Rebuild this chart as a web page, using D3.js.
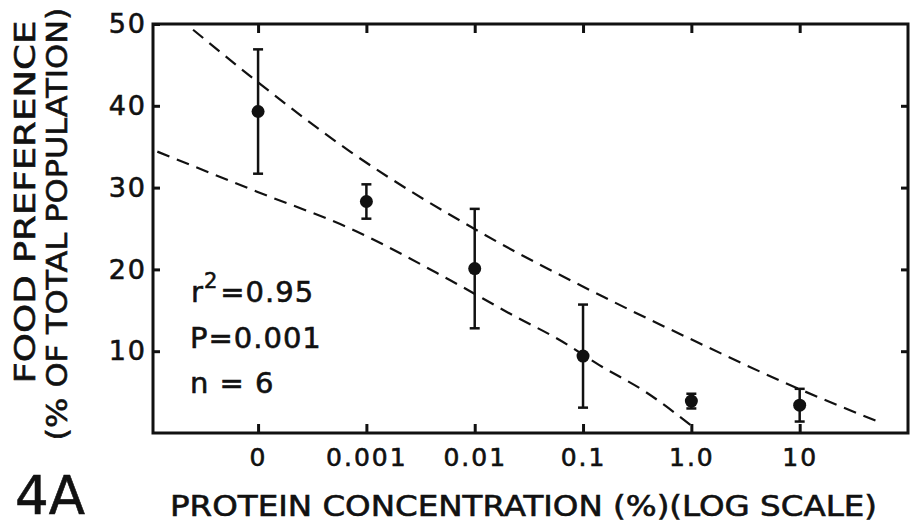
<!DOCTYPE html>
<html>
<head>
<meta charset="utf-8">
<script src="https://cdn.jsdelivr.net/npm/d3@7"></script>
<style>
	body { margin: 0; background: #fff; }
	text { font-family: "DejaVu Sans", sans-serif; fill: #111; stroke: #111; stroke-width: 0.6px; }
</style>
</head>
<body>
<svg id="chart" width="912" height="526"></svg>
<script>
// concentrations, placed by decade on the log axis ("0" sits one decade below 0.001)
const concLabels = ["0", "0.001", "0.01", "0.1", "1.0", "10"];
const concLog = [-4, -3, -2, -1, 0, 1];

// food preference, mean and error (% of total population)
const prefMean = [39.3, 28.3, 20.1, 9.4, 3.9, 3.4];
const prefErr = [7.6, 2.1, 7.3, 6.3, 0.9, 2.0];

// dashed bands, read along the dashes
const upperLog = [-4.6, -4.07, -3.15, -1.93, -0.79, 0.07, 0.87, 1.76];
const upperVal = [49.3, 43.6, 34.4, 24.4, 16.5, 11.0, 6.1, 1.2];
const lowerLog = [-4.93, -4.01, -3.15, -2.23, -1.62, -1.22, -0.85, -0.42, 0.01];
const lowerVal = [34.4, 29.5, 25.0, 18.7, 14.2, 11.4, 8.3, 5.0, 0.8];

const yTicks = [10, 20, 30, 40, 50];

var margin = { top: 24, right: 4, bottom: 93, left: 153 },
	width = 912 - margin.left - margin.right,
	height = 526 - margin.top - margin.bottom;

const svg = d3.select("#chart");
const g = svg.append("g")
	.attr("transform", `translate(${margin.left}, ${margin.top})`);

var x = d3.scaleLinear()
	.domain([-4.97, 2.0])
	.range([0, width]);

var y = d3.scaleLinear()
	.domain([0, 50])
	.range([height, 0]);

// frame
g.append("rect")
	.attr("width", width)
	.attr("height", height)
	.attr("fill", "none")
	.attr("stroke", "#111")
	.attr("stroke-width", 3);

// bottom axis, ticks pointing in
const xAxis = g.append("g")
	.attr("transform", "translate(0," + height + ")")
	.call(d3.axisBottom(x)
		.tickValues(concLog)
		.tickFormat((d, i) => concLabels[i])
		.tickSizeInner(-9)
		.tickSizeOuter(0)
		.tickPadding(15));
xAxis.select(".domain").remove();
xAxis.selectAll("line").attr("stroke", "#111").attr("stroke-width", 3);
xAxis.selectAll("text")
	.style("font-size", "25px")
	.style("letter-spacing", "2px")
	.attr("fill", "#111");

// top axis
const topAxis = g.append("g")
	.call(d3.axisTop(x).tickValues(concLog).tickFormat("").tickSizeInner(-9).tickSizeOuter(0));
topAxis.select(".domain").remove();
topAxis.selectAll("line").attr("stroke", "#111").attr("stroke-width", 3);

// left axis
const yAxis = g.append("g")
	.call(d3.axisLeft(y)
		.tickValues(yTicks)
		.tickSizeInner(-7)
		.tickSizeOuter(0)
		.tickPadding(6));
yAxis.select(".domain").remove();
yAxis.selectAll("line").attr("stroke", "#111").attr("stroke-width", 3);
yAxis.selectAll("text")
	.style("font-size", "27px")
	.style("letter-spacing", "2px")
	.attr("fill", "#111");

// right axis
const rightAxis = g.append("g")
	.attr("transform", "translate(" + width + ",0)")
	.call(d3.axisRight(y).tickValues(yTicks.slice(0, 4)).tickFormat("").tickSizeInner(-7).tickSizeOuter(0));
rightAxis.select(".domain").remove();
rightAxis.selectAll("line").attr("stroke", "#111").attr("stroke-width", 3);

// dashed bands
const line = d3.line()
	.x(d => x(d[0]))
	.y(d => y(d[1]))
	.curve(d3.curveMonotoneX);

[d3.zip(upperLog, upperVal), d3.zip(lowerLog, lowerVal)].forEach(pts => {
	g.append("path")
		.attr("d", line(pts))
		.attr("fill", "none")
		.attr("stroke", "#111")
		.attr("stroke-width", 2.2)
		.attr("stroke-dasharray", "13,8");
});

// error bars and means
const pts = concLog.map((c, i) => ({ c: c, m: prefMean[i], e: prefErr[i] }));
const bars = g.append("g").selectAll("g")
	.data(pts)
	.join("g")
	.attr("stroke", "#111")
	.attr("stroke-width", 2.5);
bars.append("line")
	.attr("x1", d => x(d.c)).attr("x2", d => x(d.c))
	.attr("y1", d => y(d.m - d.e)).attr("y2", d => y(d.m + d.e));
bars.append("line")
	.attr("x1", d => x(d.c) - 5).attr("x2", d => x(d.c) + 5)
	.attr("y1", d => y(d.m + d.e)).attr("y2", d => y(d.m + d.e));
bars.append("line")
	.attr("x1", d => x(d.c) - 5).attr("x2", d => x(d.c) + 5)
	.attr("y1", d => y(d.m - d.e)).attr("y2", d => y(d.m - d.e));
g.append("g").selectAll("circle")
	.data(pts)
	.join("circle")
	.attr("cx", d => x(d.c))
	.attr("cy", d => y(d.m))
	.attr("r", 6.5)
	.attr("fill", "#111");

// statistics
const stats = g.append("g")
	.style("font-size", "29px")
	.style("letter-spacing", "1px");
const r2 = stats.append("text").attr("x", 38).attr("y", 278);
r2.append("tspan").text("r");
r2.append("tspan").attr("dy", -14).style("font-size", "21px").text("2");
r2.append("tspan").attr("dy", 14).attr("dx", 2).text("=0.95");
stats.append("text").attr("x", 37).attr("y", 324).text("P=0.001");
stats.append("text").attr("x", 37).attr("y", 369).text("n = 6");

// axis titles
svg.append("text")
	.attr("x", 170)
	.attr("y", 516)
	.attr("textLength", 707)
	.attr("lengthAdjust", "spacingAndGlyphs")
	.style("font-size", "28px")
	.text("PROTEIN CONCENTRATION (%)(LOG SCALE)");

svg.append("text")
	.attr("transform", "translate(35,202) rotate(-90)")
	.attr("text-anchor", "middle")
	.attr("textLength", 363)
	.attr("lengthAdjust", "spacingAndGlyphs")
	.style("font-size", "29px")
	.text("FOOD PREFERENCE");

svg.append("text")
	.attr("transform", "translate(67,224) rotate(-90)")
	.attr("text-anchor", "middle")
	.attr("textLength", 433)
	.attr("lengthAdjust", "spacingAndGlyphs")
	.style("font-size", "29px")
	.text("(% OF TOTAL POPULATION)");

svg.append("text")
	.attr("x", 15)
	.attr("y", 514)
	.style("font-size", "53px")
	.text("4A");
</script>
</body>
</html>
